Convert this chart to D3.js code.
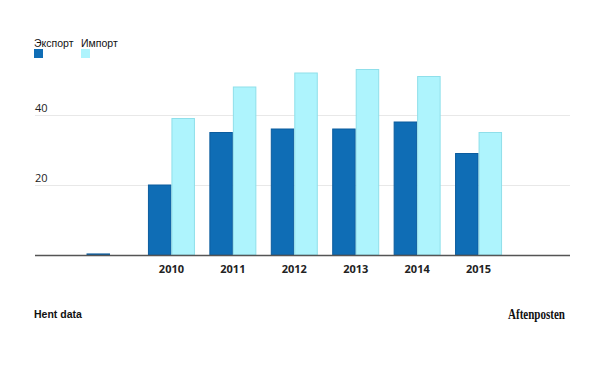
<!DOCTYPE html>
<html>
<head>
<meta charset="utf-8">
<script src="https://cdn.jsdelivr.net/npm/d3@7"></script>
<style>
  body { margin: 0; background: #fff; }
  svg { font-family: "Open Sans", "DejaVu Sans", sans-serif; }
</style>
</head>
<body>
<svg id="chart" width="600" height="367"></svg>
<script>
// categories (first and last have no label)
const categories = ["2009", "2010", "2011", "2012", "2013", "2014", "2015", "2016"];
const yearLabels = ["2010", "2011", "2012", "2013", "2014", "2015"];
const exportValues = [0.3, 20, 35, 36, 36, 38, 29, null];
const importValues = [0, 39, 48, 52, 53, 51, 35, null];
const yTicks = [20, 40];
const seriesNames = ["Экспорт", "Импорт"];

const svg = d3.select("#chart");

const x = d3.scaleBand()
    .domain(categories)
    .range([79.3, 570.7])
    .paddingInner(0.235)
    .paddingOuter(0.1175);

const xSub = d3.scaleBand()
    .domain(["exp", "imp"])
    .range([0, x.bandwidth()]);

const y = d3.scaleLinear()
    .domain([0, 60])
    .range([255, 45]);

const colors = { exp: "#0f6db5", imp: "#aef4fd" };
const strokes = { exp: "#0b5c9e", imp: "#8fdfea" };

// gridlines
svg.append("g")
    .selectAll("line")
    .data(yTicks)
    .enter()
    .append("line")
    .attr("x1", 35)
    .attr("x2", 570)
    .attr("y1", d => y(d) + 0.5)
    .attr("y2", d => y(d) + 0.5)
    .attr("stroke", "#e8e8e8")
    .attr("stroke-width", 1);

// y labels sit above gridlines
svg.append("g")
    .selectAll("text")
    .data(yTicks)
    .enter()
    .append("text")
    .attr("x", 35)
    .attr("y", d => y(d) - 3)
    .attr("font-size", 11)
    .attr("fill", "#222")
    .text(d => d);

// bars
const rows = categories.map((c, i) => ({ cat: c, exp: exportValues[i], imp: importValues[i] }));

const groups = svg.append("g")
    .selectAll("g")
    .data(rows)
    .enter()
    .append("g")
    .attr("transform", d => `translate(${x(d.cat)},0)`);

groups.selectAll("rect")
    .data(d => ["exp", "imp"].filter(k => d[k] != null).map(k => ({ key: k, value: d[k] })))
    .enter()
    .append("rect")
    .attr("x", d => xSub(d.key) + 0.5)
    .attr("width", xSub.bandwidth() - 1)
    .attr("y", d => y(d.value))
    .attr("height", d => Math.max(0, y(0) - y(d.value)))
    .attr("fill", d => colors[d.key])
    .attr("stroke", d => strokes[d.key])
    .attr("stroke-width", 1);

// baseline
svg.append("line")
    .attr("x1", 35)
    .attr("x2", 570)
    .attr("y1", y(0) + 0.5)
    .attr("y2", y(0) + 0.5)
    .attr("stroke", "#555")
    .attr("stroke-width", 1.5);

// x labels
const xAxis = d3.axisBottom(x)
    .tickValues(yearLabels)
    .tickSize(0)
    .tickPadding(10);

svg.append("g")
    .attr("transform", `translate(0,${y(0)})`)
    .call(xAxis)
    .call(g => g.select(".domain").remove())
    .call(g => g.selectAll("text")
        .style("font-family", "'Open Sans', 'DejaVu Sans', sans-serif")
        .attr("font-size", 11)
        .attr("font-weight", "bold")
        .attr("fill", "#222"));

// legend
const legend = svg.append("g")
    .selectAll("g")
    .data(seriesNames)
    .enter()
    .append("g")
    .attr("transform", (d, i) => `translate(${i === 0 ? 34 : 81},0)`);

legend.append("text")
    .attr("y", 47)
    .style("font-family", "'Liberation Sans', Arial, sans-serif")
    .attr("font-size", 10.5)
    .attr("fill", "#111")
    .text(d => d);

legend.append("rect")
    .attr("y", 49)
    .attr("width", 9)
    .attr("height", 9)
    .attr("fill", (d, i) => i === 0 ? colors.exp : colors.imp);

// footer
svg.append("text")
    .attr("x", 34)
    .attr("y", 318)
    .style("font-family", "'Liberation Sans Narrow', 'Liberation Sans', sans-serif")
    .attr("font-size", 10.5)
    .attr("font-weight", "bold")
    .attr("fill", "#111")
    .text("Hent data");

svg.append("text")
    .attr("x", 508)
    .attr("y", 319)
    .attr("textLength", 57)
    .attr("lengthAdjust", "spacingAndGlyphs")
    .style("font-family", "'Liberation Serif', 'DejaVu Serif', serif")
    .attr("font-size", 14)
    .attr("font-weight", "bold")
    .attr("fill", "#111")
    .text("Aftenposten");
</script>
</body>
</html>
